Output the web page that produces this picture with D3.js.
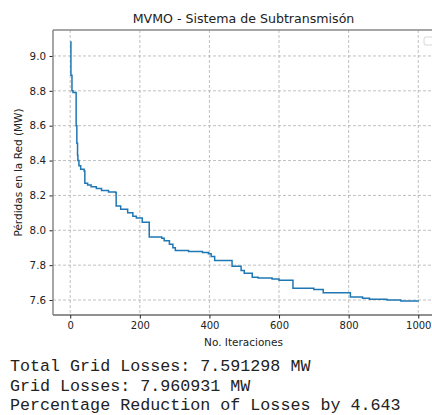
<!DOCTYPE html>
<html>
<head>
  <meta charset="utf-8">
  <script src="https://d3js.org/d3.v7.min.js"></script>
  <style>
    body { margin: 0; background: #fff; }
    text { font-family: "DejaVu Sans", sans-serif; }
  </style>
</head>
<body>
<script>
  var width = 432;
  var height = 415;

  // puntos de cambio del mejor valor (iteracion, perdidas MW)
  var iteraciones = [0, 2, 5, 8, 17, 19, 21, 22, 25, 30, 40, 42, 50, 60, 75, 90, 110, 131,
    132, 145, 165, 180, 190, 207, 227, 263, 270, 285, 295, 302, 340, 380, 397, 405, 415,
    465, 491, 500, 523, 540, 580, 600, 632, 640, 700, 727, 805, 840, 860, 910, 950, 1000];
  var perdidas = [9.08, 8.89, 8.80, 8.79, 8.60, 8.50, 8.43, 8.40, 8.37, 8.35, 8.34, 8.27, 8.26, 8.25, 8.24, 8.228, 8.22, 8.215,
    8.139, 8.12, 8.10, 8.08, 8.07, 8.046, 7.961, 7.955, 7.94, 7.92, 7.90, 7.884, 7.878, 7.872, 7.865, 7.85, 7.826,
    7.794, 7.77, 7.754, 7.73, 7.726, 7.72, 7.714, 7.714, 7.667, 7.66, 7.642, 7.617, 7.61, 7.605, 7.60, 7.595, 7.591];
  var xTicks = [0, 200, 400, 600, 800, 1000];
  var yTicks = [7.6, 7.8, 8.0, 8.2, 8.4, 8.6, 8.8, 9.0];
  var resumen = [
    "Total Grid Losses: 7.591298 MW",
    "Grid Losses: 7.960931 MW",
    "Percentage Reduction of Losses by 4.643"
  ];

  var datos = iteraciones.map(function(d, i) { return { x: d, y: perdidas[i] }; });

  var svg = d3.select("body")
    .append("svg")
    .attr("width", width)
    .attr("height", height);

  var mLeft = 53, mTop = 30, mRight = 436, mBottom = 315;

  var x = d3.scaleLinear().domain([-49.5, 1051]).range([mLeft, mRight]);
  var y = d3.scaleLinear().domain([7.514, 9.149]).range([mBottom, mTop]);

  // rejilla
  svg.append("g").selectAll("line").data(xTicks).enter().append("line")
    .attr("x1", function(d) { return x(d); }).attr("x2", function(d) { return x(d); })
    .attr("y1", mTop).attr("y2", mBottom)
    .style("stroke", "#b0b0b0").style("stroke-width", 0.8).style("stroke-dasharray", "3,2");
  svg.append("g").selectAll("line").data(yTicks).enter().append("line")
    .attr("x1", mLeft).attr("x2", mRight)
    .attr("y1", function(d) { return y(d); }).attr("y2", function(d) { return y(d); })
    .style("stroke", "#b0b0b0").style("stroke-width", 0.8).style("stroke-dasharray", "3,2");

  var linea = d3.line()
    .x(function(d) { return x(d.x); })
    .y(function(d) { return y(d.y); })
    .curve(d3.curveStepAfter);

  svg.append("path")
    .datum(datos)
    .attr("d", linea)
    .style("fill", "none")
    .style("stroke", "#1f77b4")
    .style("stroke-width", 1.5);

  // ejes
  var ejeX = svg.append("g")
    .attr("transform", "translate(0," + mBottom + ")")
    .call(d3.axisBottom(x).tickValues(xTicks).tickSize(3.5).tickPadding(3.5).tickFormat(d3.format("d")));
  ejeX.select(".domain").remove();
  ejeX.selectAll("text").style("font-size", "10px").style("fill", "#222");
  ejeX.selectAll("line").style("stroke", "#222");

  var ejeY = svg.append("g")
    .attr("transform", "translate(" + mLeft + ",0)")
    .call(d3.axisLeft(y).tickValues(yTicks).tickSize(3.5).tickPadding(3.5).tickFormat(d3.format(".1f")));
  ejeY.select(".domain").remove();
  ejeY.selectAll("text").style("font-size", "10.3px").style("fill", "#222");
  ejeY.selectAll("line").style("stroke", "#222");

  // marco
  svg.append("line").attr("x1", mLeft).attr("x2", mRight).attr("y1", mBottom).attr("y2", mBottom)
    .style("stroke", "#222").style("stroke-width", 1);
  svg.append("line").attr("x1", mLeft).attr("x2", mLeft).attr("y1", mTop).attr("y2", mBottom)
    .style("stroke", "#888").style("stroke-width", 1.5);
  svg.append("line").attr("x1", mLeft).attr("x2", mRight).attr("y1", mTop).attr("y2", mTop)
    .style("stroke", "#888").style("stroke-width", 1.5);

  // leyenda vacia
  svg.append("rect")
    .attr("x", 424).attr("y", 37).attr("width", 10).attr("height", 8).attr("rx", 2)
    .style("fill", "#fff").style("stroke", "#ccc").style("stroke-width", 0.8);

  svg.append("text")
    .attr("x", 243.5).attr("y", 23)
    .attr("text-anchor", "middle")
    .style("font-size", "12.6px").style("fill", "#222")
    .text("MVMO - Sistema de Subtransmisón");

  svg.append("text")
    .attr("x", 243.5).attr("y", 346)
    .attr("text-anchor", "middle")
    .style("font-size", "10.5px").style("fill", "#222")
    .text("No. Iteraciones");

  svg.append("text")
    .attr("transform", "translate(21.5," + ((mTop + mBottom) / 2) + ") rotate(-90)")
    .attr("text-anchor", "middle")
    .style("font-size", "10.5px").style("fill", "#222")
    .text("Pérdidas en la Red (MW)");

  svg.append("g").selectAll("text").data(resumen).enter().append("text")
    .attr("x", 10)
    .attr("y", function(d, i) { return 371 + i * 19.5; })
    .style("font-family", "'Liberation Mono', 'Courier New', monospace")
    .style("font-size", "16.7px")
    .style("fill", "#222")
    .text(function(d) { return d; });
</script>
</body>
</html>
